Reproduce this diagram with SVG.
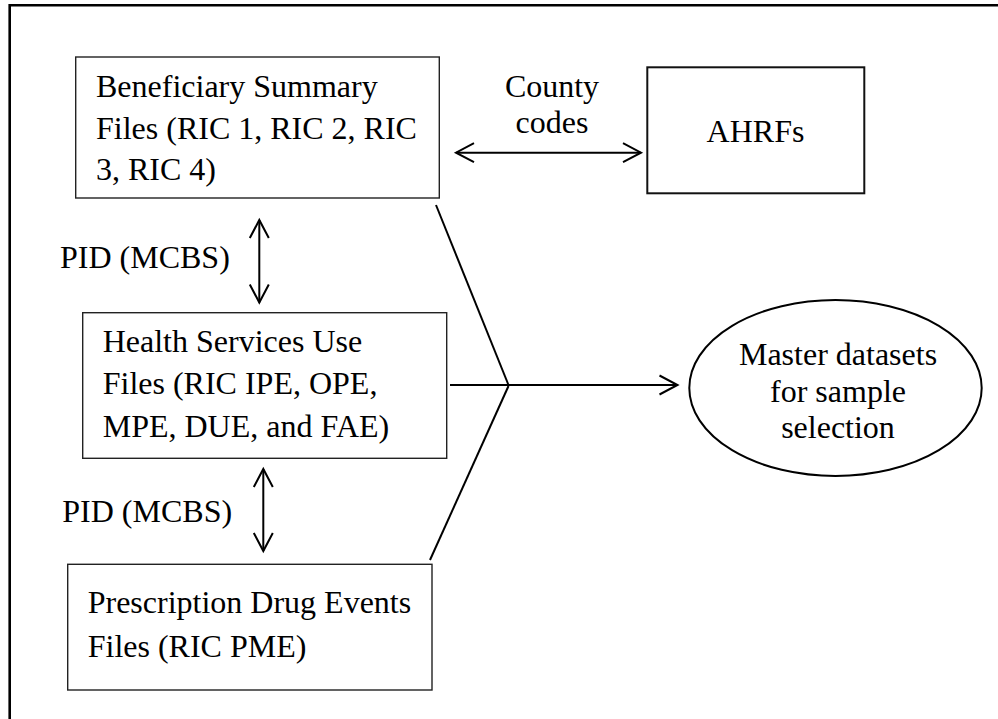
<svg xmlns="http://www.w3.org/2000/svg" width="998" height="719" viewBox="0 0 998 719">
  <style>
    .box { fill: #ffffff; stroke: #222222; stroke-width: 1.4; }
    .box2 { fill: #ffffff; stroke: #111111; stroke-width: 2; }
    .lbl { font-family: 'Liberation Serif', Tinos, 'Times New Roman', Times, 'DejaVu Serif', serif; font-size: 32px; fill: #000000; }
    .mid { text-anchor: middle; }
    .con { fill: none; stroke: #000000; stroke-width: 2; }
    .arr { marker-start: url(#head); marker-end: url(#head); }
    .arr1 { marker-end: url(#head); }
  </style>
  <defs>
    <marker id="head" markerUnits="userSpaceOnUse" markerWidth="40" markerHeight="40" viewBox="-20 -20 40 40" refX="0" refY="0" orient="auto-start-reverse">
      <path d="M-18,-9.5 L0,0 L-18,9.5" fill="none" stroke="#000000" stroke-width="2"/>
    </marker>
  </defs>
  <rect width="998" height="719" fill="#ffffff"/>
  <path id="frame" d="M9.7,719 L9.7,5.3 L998,5.3" fill="none" stroke="#000000" stroke-width="2.6"/>

  <g id="connectors">
    <line class="con arr" x1="456" y1="152.7" x2="641" y2="152.7"/>
    <line class="con arr" x1="259.3" y1="220" x2="259.3" y2="302.5"/>
    <line class="con arr" x1="263.3" y1="469" x2="263.3" y2="551"/>
    <line class="con" x1="436" y1="205" x2="508.5" y2="385"/>
    <line class="con" x1="430" y1="560" x2="508.5" y2="386"/>
    <line class="con arr1" x1="450" y1="385" x2="677.5" y2="385"/>
  </g>

  <g id="label-county" class="lbl" font-family="Liberation Serif, serif">
    <text class="lbl mid" x="552" y="97.3">County</text>
    <text class="lbl mid" x="552" y="132.7">codes</text>
  </g>
  <g id="label-pid1">
    <text class="lbl" x="60" y="268.3">PID (MCBS)</text>
  </g>
  <g id="label-pid2">
    <text class="lbl" x="62.3" y="521.7">PID (MCBS)</text>
  </g>

  <g id="node-beneficiary">
    <rect class="box" x="75.7" y="57" width="363.6" height="141"/>
    <text class="lbl" x="96" y="97.3">Beneficiary Summary</text>
    <text class="lbl" x="96" y="138.5">Files (RIC 1, RIC 2, RIC</text>
    <text class="lbl" x="96" y="180">3, RIC 4)</text>
  </g>

  <g id="node-ahrfs">
    <rect class="box2" x="647.3" y="67.3" width="217" height="126"/>
    <text class="lbl mid" x="755.5" y="141.7">AHRFs</text>
  </g>

  <g id="node-health">
    <rect class="box" x="82.7" y="312.7" width="364" height="145.6"/>
    <text class="lbl" x="102.7" y="351.7">Health Services Use</text>
    <text class="lbl" x="102.7" y="394.3">Files (RIC IPE, OPE,</text>
    <text class="lbl" x="102.7" y="436.7">MPE, DUE, and FAE)</text>
  </g>

  <g id="node-prescription">
    <rect class="box" x="67.7" y="564.3" width="364.3" height="125.7"/>
    <text class="lbl" x="87.7" y="613.3">Prescription Drug Events</text>
    <text class="lbl" x="87.7" y="656.7">Files (RIC PME)</text>
  </g>

  <g id="node-master">
    <ellipse cx="835.5" cy="388" rx="146.2" ry="88" fill="#ffffff" stroke="#000000" stroke-width="2"/>
    <text class="lbl mid" x="838" y="365">Master datasets</text>
    <text class="lbl mid" x="838" y="401.7">for sample</text>
    <text class="lbl mid" x="838" y="438">selection</text>
  </g>
</svg>
